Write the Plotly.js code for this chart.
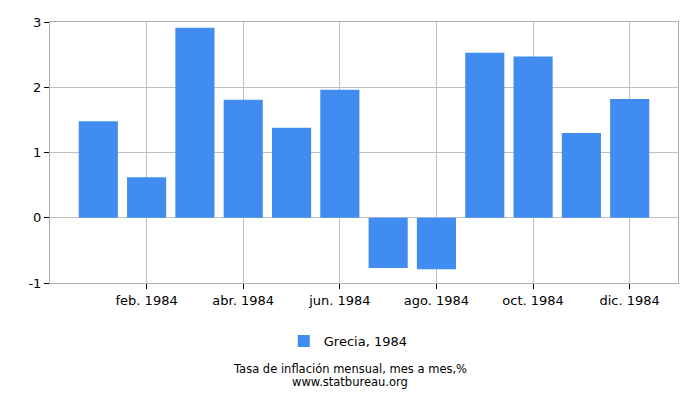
<!DOCTYPE html>
<html>
<head>
<meta charset="utf-8">
<script src="https://cdn.plot.ly/plotly-3.0.1.min.js"></script>
<style>
  html, body { margin: 0; padding: 0; background: #fff; }
  #chart { width: 700px; height: 400px; }
</style>
</head>
<body>
<div id="chart"></div>
<script>
const months = ["ene. 1984", "feb. 1984", "mar. 1984", "abr. 1984", "may. 1984", "jun. 1984",
  "jul. 1984", "ago. 1984", "sep. 1984", "oct. 1984", "nov. 1984", "dic. 1984"];
const inflation = [1.48, 0.62, 2.91, 1.81, 1.38, 1.96, -0.77, -0.79, 2.53, 2.47, 1.30, 1.82];
const shownTicks = ["feb. 1984", "abr. 1984", "jun. 1984", "ago. 1984", "oct. 1984", "dic. 1984"];
const yTicks = [-1, 0, 1, 2, 3];
const yTickText = ["-1", "0", "1", "2", "3"];

Plotly.newPlot(
  "chart",
  [
    {
      name: "Grecia, 1984",
      x: months,
      y: inflation,
      type: "bar",
      marker: { color: "#418cf0" },
      hoverinfo: "x+y",
    },
  ],
  {
    width: 700,
    height: 400,
    margin: { l: 50, r: 22, t: 22, b: 117 },
    paper_bgcolor: "#fff",
    plot_bgcolor: "#fff",
    font: { family: "DejaVu Sans, sans-serif", size: 13, color: "#000" },
    bargap: 0.19,
    showlegend: true,
    legend: {
      orientation: "h",
      x: 0.475,
      xanchor: "center",
      y: -0.222,
      yanchor: "middle",
      font: { size: 13 },
    },
    xaxis: {
      type: "category",
      range: [-1, 12],
      tickmode: "array",
      tickvals: shownTicks,
      ticktext: shownTicks,
      showgrid: true,
      gridcolor: "#c0c0c0",
      showline: true,
      linecolor: "#b0b0b0",
      mirror: true,
      ticks: "outside",
      ticklen: 5,
      tickcolor: "#000",
      zeroline: false,
      fixedrange: true,
    },
    yaxis: {
      range: [-1, 3],
      tickmode: "array",
      tickvals: yTicks,
      ticktext: yTickText,
      showgrid: true,
      gridcolor: "#c0c0c0",
      showline: true,
      linecolor: "#b0b0b0",
      mirror: true,
      ticks: "outside",
      ticklen: 5,
      tickcolor: "#000",
      zeroline: true,
      zerolinecolor: "#c0c0c0",
      zerolinewidth: 1,
      fixedrange: true,
    },
    annotations: [
      {
        text: "Tasa de inflación mensual, mes a mes,%",
        xref: "paper",
        yref: "paper",
        x: 0.4777,
        y: -0.33,
        xanchor: "center",
        yanchor: "middle",
        showarrow: false,
        font: { size: 11.5 },
      },
      {
        text: "www.statbureau.org",
        xref: "paper",
        yref: "paper",
        x: 0.4777,
        y: -0.38,
        xanchor: "center",
        yanchor: "middle",
        showarrow: false,
        font: { size: 11.5 },
      },
    ],
  },
  { displayModeBar: false }
);
</script>
</body>
</html>
